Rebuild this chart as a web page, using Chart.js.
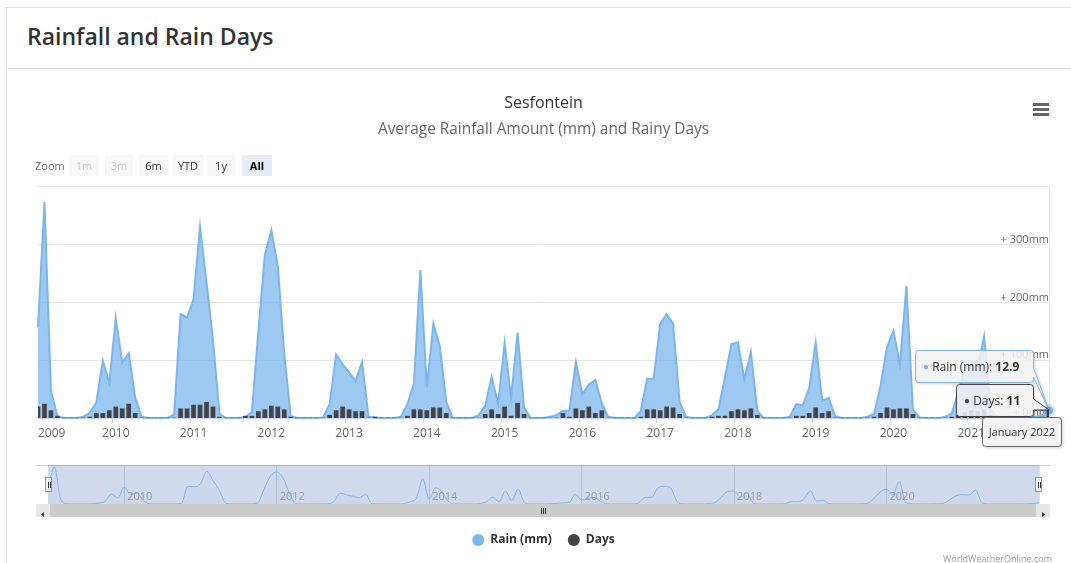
<!DOCTYPE html>
<html>
<head>
<meta charset="utf-8">
<script src="https://cdn.jsdelivr.net/npm/chart.js@4/dist/chart.umd.min.js"></script>
<style>
html,body{margin:0;padding:0;background:#fff;width:1071px;height:563px;overflow:hidden;font-family:'Open Sans',sans-serif;}
.abs{position:absolute;}
#card{position:absolute;left:6px;top:7px;width:1100px;height:600px;border:1px solid #e3e3e3;box-sizing:border-box;}
#hdr{position:absolute;left:0;top:0;width:100%;height:61px;border-bottom:1px solid #e3e3e3;box-sizing:border-box;}
#hdr h2{margin:0;position:absolute;left:20px;top:13px;font-size:23px;font-weight:600;color:#333;line-height:30px;white-space:nowrap;}
.zb{position:absolute;top:155px;height:21px;line-height:21px;font-size:11px;text-align:center;background:#f7f7f7;color:#333;}
.zb.dis{color:#ccc;}
.zb.sel{background:#e6ebf5;color:#000;font-weight:bold;}
.hb{position:absolute;left:1033px;width:16px;height:2.5px;background:#666;}
#mask{position:absolute;left:48px;top:465px;width:991px;height:39px;background:rgba(102,133,194,0.3);}
#outline{position:absolute;left:36px;top:465px;width:1014px;height:0;border-top:1px solid #ccc;}
.hdl{position:absolute;top:477px;width:7px;height:15px;background:#f2f2f2;border:1px solid #999;box-sizing:border-box;}
.hdl i{position:absolute;top:4px;width:1px;height:6px;background:#333;}
#sb{position:absolute;left:36px;top:504px;width:1014px;height:13px;background:#f2f2f2;}
#sbt{position:absolute;left:14px;top:0;width:986px;height:13px;background:#cccccc;}
.sbb{position:absolute;top:0;width:14px;height:13px;background:#e6e6e6;}
.rif{position:absolute;top:4px;width:1px;height:6px;background:#333;}
.navlab{position:absolute;top:489px;height:13px;line-height:13px;font-size:11px;color:#999;white-space:nowrap;}
#cred{position:absolute;left:850px;top:552px;width:202px;text-align:right;font-size:9px;color:#999;}
</style>
</head>
<body>
<div id="card"><div id="hdr"><h2>Rainfall and Rain Days</h2></div></div>

<canvas id="main" class="abs" width="1071" height="475" style="left:0;top:85px;width:1071px;height:475px;"></canvas>

<div class="abs" style="left:35px;top:155px;height:21px;line-height:21px;font-size:11px;color:#666;">Zoom</div>
<div class="zb dis" style="left:70px;width:28px;">1m</div>
<div class="zb dis" style="left:105px;width:28px;">3m</div>
<div class="zb" style="left:139px;width:29px;">6m</div>
<div class="zb" style="left:173px;width:30px;">YTD</div>
<div class="zb" style="left:207px;width:28px;">1y</div>
<div class="zb sel" style="left:242px;width:30px;">All</div>

<div class="hb" style="top:103px;"></div>
<div class="hb" style="top:108px;"></div>
<div class="hb" style="top:113px;"></div>

<div id="outline"></div>
<div id="mask"></div>
<canvas id="nav" class="abs" width="1071" height="39" style="left:0;top:465px;width:1071px;height:39px;"></canvas>
<div id="navlabels"></div>
<div class="hdl" style="left:45px;"><i style="left:2px"></i><i style="left:4px"></i></div>
<div class="hdl" style="left:1035px;"><i style="left:2px"></i><i style="left:4px"></i></div>

<div id="sb">
  <div id="sbt"></div>
  <div class="sbb" style="left:0;"><svg width="14" height="13"><path d="M8,4 L5,6.5 L8,9 Z" fill="#333"/></svg></div>
  <div class="sbb" style="left:1000px;"><svg width="14" height="13"><path d="M6,4 L9,6.5 L6,9 Z" fill="#333"/></svg></div>
  <div class="rif" style="left:505px;"></div><div class="rif" style="left:507px;"></div><div class="rif" style="left:509px;"></div>
</div>

<div id="cred">WorldWeatherOnline.com</div>

<svg class="abs" width="1071" height="563" style="left:0;top:0;pointer-events:none;">
  <g style="filter:drop-shadow(1px 1px 1.5px rgba(0,0,0,0.18))">
    <path d="M918.5,350.5 H1030.5 Q1033.5,350.5 1033.5,353.5 V368 L1049,410 L1033.5,377 V379.5 Q1033.5,382.5 1030.5,382.5 H918.5 Q915.5,382.5 915.5,379.5 V353.5 Q915.5,350.5 918.5,350.5 Z" fill="rgba(247,247,247,0.85)" stroke="#7cb5ec"/>
    <text x="923" y="370.5" font-family="Open Sans" font-size="12" fill="#333"><tspan fill="#7cb5ec" font-size="10" dy="-1">●</tspan><tspan dy="1"> Rain (mm): </tspan><tspan font-weight="bold">12.9</tspan></text>
  </g>
  <g style="filter:drop-shadow(1px 1px 1.5px rgba(0,0,0,0.18))">
    <path d="M959.5,384.5 H1030.5 Q1033.5,384.5 1033.5,387.5 V399 L1049,410 L1033.5,410 V413.5 Q1033.5,416.5 1030.5,416.5 H959.5 Q956.5,416.5 956.5,413.5 V387.5 Q956.5,384.5 959.5,384.5 Z" fill="rgba(247,247,247,0.85)" stroke="#434348"/>
    <text x="964" y="404.5" font-family="Open Sans" font-size="12" fill="#333"><tspan fill="#434348" font-size="10" dy="-1">●</tspan><tspan dy="1"> Days: </tspan><tspan font-weight="bold">11</tspan></text>
  </g>
  <g style="filter:drop-shadow(1px 1px 1.5px rgba(0,0,0,0.18))">
    <rect x="982.5" y="417.5" width="79" height="29" rx="3" fill="rgba(247,247,247,0.9)" stroke="#666"/>
    <text x="1022" y="436" text-anchor="middle" font-family="Open Sans" font-size="11" fill="#333">January 2022</text>
  </g>
</svg>

<script>
// ---- data (monthly, January 2009 .. January 2022) ----
const years = [2009, 2010, 2011, 2012, 2013, 2014, 2015, 2016, 2017, 2018, 2019, 2020, 2021, 2022];
const monthNames = ['January','February','March','April','May','June','July','August','September','October','November','December'];
const rain = [
  157, 374, 47, 3, 0, 0, 0, 2, 9, 27, 99, 61,        // 2009
  173, 96, 112, 35, 2, 0, 0, 0, 0, 6, 180, 174,      // 2010
  206, 331, 235, 135, 7, 0, 0, 0, 2, 10, 150, 282,   // 2011
  325, 264, 110, 3, 0, 0, 0, 0, 1, 24, 110, 93,      // 2012
  79, 64, 97, 2, 1, 0, 0, 0, 2, 24, 59, 256,         // 2013
  53, 163, 125, 28, 0, 0, 0, 0, 5, 21, 71, 24,       // 2014
  130, 35, 148, 18, 0, 0, 0, 2, 5, 12, 13, 97,       // 2015
  41, 58, 66, 25, 2, 0, 0, 0, 0, 12, 68, 68,         // 2016
  163, 180, 163, 28, 2, 0, 0, 0, 5, 15, 70, 128,     // 2017
  131, 67, 114, 12, 0, 0, 0, 0, 2, 24, 22, 52,       // 2018
  131, 30, 35, 3, 0, 0, 0, 0, 2, 7, 55, 122,         // 2019
  151, 92, 229, 15, 1, 0, 0, 0, 2, 8, 45, 85,        // 2020
  95, 90, 141, 15, 1, 0, 0, 0, 0, 1, 2, 5,           // 2021
  12.9                                               // 2022
];
const days = [
  12, 15, 8, 2, 0, 0, 0, 0, 1, 5, 5, 8,
  12, 10, 15, 5, 0, 0, 0, 0, 0, 0, 10, 10,
  14, 14, 17, 12, 1, 0, 0, 0, 2, 2, 7, 9,
  13, 12, 9, 1, 0, 0, 0, 0, 0, 3, 8, 12,
  9, 7, 7, 0, 1, 0, 0, 0, 0, 2, 9, 9,
  8, 11, 11, 5, 0, 0, 0, 0, 0, 4, 9, 4,
  12, 2, 16, 4, 0, 0, 0, 0, 0, 5, 1, 10,
  8, 12, 5, 8, 0, 0, 0, 0, 0, 1, 9, 9,
  8, 12, 11, 4, 0, 0, 0, 0, 1, 2, 2, 7,
  9, 8, 10, 3, 0, 0, 0, 0, 0, 2, 2, 5,
  11, 5, 7, 0, 0, 0, 0, 0, 0, 1, 5, 11,
  9, 10, 10, 4, 0, 0, 0, 0, 0, 1, 3, 6,
  8, 7, 9, 3, 0, 0, 0, 0, 0, 0, 0, 1,
  11
];
const rainTicks = [0, 100, 200, 300, 400];
const navYears = [2010, 2012, 2014, 2016, 2018, 2020];

const labels = [];
for (let i = 0; i < rain.length; i++) {
  labels.push(monthNames[i % 12] + ' ' + years[Math.floor(i / 12)]);
}
const lastIdx = rain.length - 1;

Chart.defaults.font.family = "'Open Sans', sans-serif";
Chart.defaults.color = '#666';

new Chart(document.getElementById('main'), {
  data: {
    labels: labels,
    datasets: [
      {
        type: 'line', label: 'Rain (mm)', data: rain, yAxisID: 'y',
        borderColor: '#7cb5ec', backgroundColor: 'rgba(124,181,236,0.75)',
        borderWidth: 2, fill: 'origin', tension: 0,
        pointRadius: c => c.dataIndex === lastIdx ? 4 : 0,
        pointBackgroundColor: '#7cb5ec', pointBorderColor: 'rgba(124,181,236,0.3)', pointBorderWidth: 5,
        order: 2, clip: false
      },
      {
        type: 'bar', label: 'Days', data: days, yAxisID: 'y1',
        backgroundColor: '#434348', barThickness: 4, order: 1
      }
    ]
  },
  options: {
    responsive: false, animation: false, events: [],
    layout: { padding: { left: 38, right: 22, top: 0, bottom: 4 } },
    scales: {
      x: {
        type: 'category', offset: false,
        grid: { display: true, drawOnChartArea: false, drawTicks: true, tickLength: 5,
                color: c => (c.index % 12 === 0 ? '#ccd6eb' : 'rgba(0,0,0,0)') },
        border: { display: true, color: '#ccd6eb' },
        ticks: {
          autoSkip: false, maxRotation: 0, minRotation: 0, align: 'inner', padding: 3,
          color: '#666', font: { size: 12 },
          callback: (v, i) => (i % 12 === 0 && i < lastIdx) ? String(years[i / 12]) : ''
        }
      },
      y: {
        position: 'right', min: rainTicks[0], max: rainTicks[rainTicks.length - 1],
        afterBuildTicks: s => { s.ticks = rainTicks.map(v => ({ value: v })); },
        ticks: {
          mirror: true, padding: 0, labelOffset: -5, color: '#666', font: { size: 11 },
          callback: v => v === 400 ? '' : '+ ' + v + 'mm'
        },
        grid: { color: '#e6e6e6', drawTicks: false },
        border: { display: true, color: '#e6e6e6' }
      },
      y1: { display: false, min: 0, max: 250 }
    },
    plugins: {
      title: { display: true, text: 'Sesfontein', color: '#333', font: { size: 16, weight: 'normal' },
               padding: { top: 8.4, bottom: 0 } },
      subtitle: { display: true, text: 'Average Rainfall Amount (mm) and Rainy Days', color: '#666',
                  font: { size: 15.4, weight: 'normal' }, padding: { top: 8.2, bottom: 47.7 } },
      legend: {
        position: 'bottom',
        title: { display: true, text: '', font: { size: 10 }, padding: { top: 62.6, bottom: 0 } },
        labels: {
          usePointStyle: true, pointStyle: 'circle', boxWidth: 12, boxHeight: 8.5, padding: 16,
          color: '#333', font: { size: 12, weight: 'bold' },
          sort: (a, b) => a.datasetIndex - b.datasetIndex,
          generateLabels: chart => Chart.defaults.plugins.legend.labels.generateLabels(chart).map(l =>
            Object.assign({}, l, { fillStyle: l.datasetIndex === 0 ? '#7cb5ec' : '#434348',
                                   strokeStyle: 'rgba(0,0,0,0)', lineWidth: 0 }))
        }
      },
      tooltip: { enabled: false }
    }
  }
});

const navChart = new Chart(document.getElementById('nav'), {
  type: 'line',
  data: {
    labels: labels,
    datasets: [{
      data: rain, borderColor: '#7cb5ec', borderWidth: 1,
      backgroundColor: 'rgba(124,181,236,0.05)', fill: 'origin',
      pointRadius: 0, cubicInterpolationMode: 'monotone'
    }]
  },
  options: {
    responsive: false, animation: false, events: [],
    layout: { padding: { left: 48, right: 32, top: 1, bottom: 0 } },
    scales: {
      x: {
        offset: false,
        grid: { drawTicks: false, color: c => (c.index % 24 === 12 ? 'rgba(0,0,0,0.12)' : 'rgba(0,0,0,0)') },
        border: { display: false },
        ticks: { display: false, autoSkip: false },
        afterFit: s => { s.height = 0; }
      },
      y: { display: false, min: 0, max: 385 }
    },
    plugins: { legend: { display: false }, tooltip: { enabled: false } }
  }
});

// navigator year labels placed at the navigator's own x-scale positions
const nx = navChart.scales.x;
const holder = document.getElementById('navlabels');
navYears.forEach(y => {
  const idx = (y - years[0]) * 12;
  const d = document.createElement('div');
  d.className = 'navlab';
  d.style.left = (nx.getPixelForValue(idx) + 3) + 'px';
  d.textContent = String(y);
  holder.appendChild(d);
});
</script>
</body>
</html>
